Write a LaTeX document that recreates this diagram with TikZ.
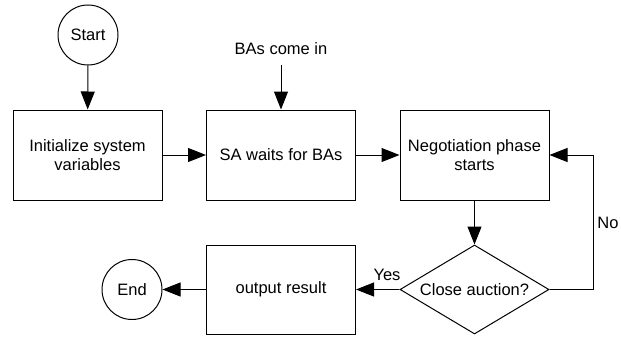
\documentclass[tikz,border=0pt]{standalone}
\usepackage{fontspec}
\setmainfont{Liberation Sans}
\usetikzlibrary{shapes.geometric,arrows.meta}
\begin{document}
\begin{tikzpicture}[x=1pt,y=-1pt, font=\fontsize{16.5}{19}\selectfont,
  box/.style={draw, line width=1pt, minimum width=149pt, minimum height=90pt, inner sep=0pt, align=center},
  term/.style={draw, circle, line width=1pt, minimum size=60pt, inner sep=0pt},
  dec/.style={draw, diamond, shape aspect=1.674, line width=1pt, minimum width=149pt, minimum height=89pt, inner sep=0pt},
  lbl/.style={inner sep=0pt},
  arr/.style={line width=1pt, -{Triangle[length=18pt,width=14pt]}}]
\useasboundingbox (0,0) rectangle (621,337);
\node[term] (start) at (88,35) {Start};
\node[box] (init) at (87.5,155) {Initialize system\\variables};
\node[box] (wait) at (281,155) {SA waits for BAs};
\node[box] (neg) at (474.5,155) {Negotiation phase\\starts};
\node[dec] (close) at (474.5,289.5) {Close auction?};
\node[box, minimum height=89pt] (out) at (281,289.5) {output result};
\node[term] (end) at (132,289.5) {End};
\node[lbl] (bas) at (281,49) {BAs come in};
\coordinate (basarr) at (281,65);
\node[lbl] (yes) at (387,275) {Yes};
\node[lbl] (no) at (608,223) {No};
\draw[arr] (start) -- (init);
\draw[arr] (basarr) -- (wait);
\draw[arr] (init) -- (wait);
\draw[arr] (wait) -- (neg);
\draw[arr] (neg) -- (close);
\draw[arr] (close) -- (out);
\draw[arr] (out) -- (end);
\draw[arr] (close.east) -- ++(44,0) |- (neg.east);
\end{tikzpicture}
\end{document}
